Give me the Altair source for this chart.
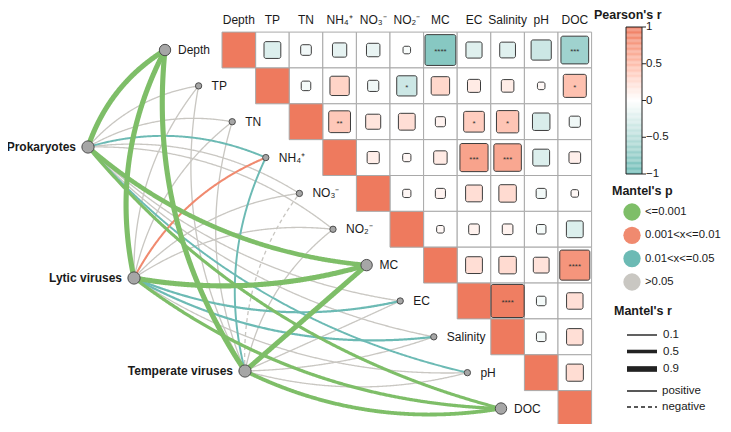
import math
import altair as alt
import numpy as np
import pandas as pd

# ---------------- data ----------------
variables = ["Depth", "TP", "TN", "NH₄⁺", "NO₃⁻", "NO₂⁻", "MC", "EC", "Salinity", "pH", "DOC"]

# Pearson's r, upper triangle (row i, columns i+1 .. end)
pearson_upper = [
    [-0.25, -0.10, -0.18, -0.16, -0.05, -0.84, -0.23, -0.22, -0.36, -0.68],
    [-0.08, 0.33, -0.11, -0.36, 0.30, 0.15, 0.14, 0.05, 0.47],
    [0.42, 0.20, 0.25, 0.09, 0.38, 0.44, -0.27, -0.11],
    [0.13, 0.06, 0.16, 0.70, 0.67, -0.25, 0.12],
    [0.06, 0.09, 0.25, 0.27, -0.09, 0.05],
    [0.05, 0.10, 0.10, -0.08, -0.25],
    [0.25, 0.27, 0.22, 0.80],
    [0.97, -0.08, 0.24],
    [-0.08, 0.24],
    [0.26],
]

sig_stars = [
    ("Depth", "MC", "****"), ("Depth", "DOC", "***"), ("TP", "NO₂⁻", "*"),
    ("TP", "DOC", "*"), ("TN", "NH₄⁺", "**"), ("TN", "EC", "*"), ("TN", "Salinity", "*"),
    ("NH₄⁺", "EC", "***"), ("NH₄⁺", "Salinity", "***"), ("MC", "DOC", "****"),
    ("EC", "Salinity", "****"),
]

sources = ["Prokaryotes", "Lytic viruses", "Temperate viruses"]
mantel_r = [
    [0.80, 0.08, 0.08, 0.20, 0.08, 0.08, 0.70, 0.08, 0.08, 0.20, 0.42],
    [0.80, 0.08, 0.08, 0.22, 0.08, 0.08, 0.80, 0.25, 0.25, 0.08, 0.45],
    [0.80, 0.08, 0.08, 0.20, 0.08, 0.08, 0.78, 0.08, 0.08, 0.08, 0.55],
]
mantel_p = [
    ["<=0.001", ">0.05", ">0.05", "0.01<x<=0.05", ">0.05", ">0.05", "<=0.001", ">0.05", ">0.05", "0.01<x<=0.05", "<=0.001"],
    ["<=0.001", ">0.05", ">0.05", "0.001<x<=0.01", ">0.05", ">0.05", "<=0.001", "0.01<x<=0.05", "0.01<x<=0.05", ">0.05", "<=0.001"],
    ["<=0.001", ">0.05", ">0.05", "0.01<x<=0.05", ">0.05", ">0.05", "<=0.001", ">0.05", ">0.05", ">0.05", "<=0.001"],
]
mantel_sign = [
    ["positive"] * 11,
    ["positive"] * 11,
    ["positive", "positive", "positive", "positive", "negative", "positive",
     "positive", "positive", "positive", "positive", "positive"],
]

p_levels = ["<=0.001", "0.001<x<=0.01", "0.01<x<=0.05", ">0.05"]
p_colors = ["#7EBE68", "#F08A6F", "#6CBAB4", "#C9C7C2"]
big_nodes = ["Depth", "MC", "DOC"]

cb_ticks = [1, 0.5, 0, -0.5, -1]
cb_labels = ["1", "0.5", "0", "−0.5", "−1"]
mr_legend = [0.1, 0.5, 0.9]
sign_legend = ["positive", "negative"]

# ---------------- layout ----------------
W, H = 715, 416
X0, CW = 222.0, 33.6
Y0, CH = 32.1, 35.85
NODE_DX = -57.0
source_pos = {"Prokaryotes": (88, 147), "Lytic viruses": (134, 278), "Temperate viruses": (245, 371)}
FONT = "Liberation Sans"
n = len(variables)

def cx(j):
    return X0 + (j + 0.5) * CW

def cy(i):
    return Y0 + (i + 0.5) * CH

xs = alt.Scale(domain=[8, 8 + W], nice=False, zero=False)
ys = alt.Scale(domain=[8, 8 + H], nice=False, zero=False, reverse=True)

def X(f="x"):
    return alt.X(f, type="quantitative", scale=xs, axis=None)

def Y(f="y"):
    return alt.Y(f, type="quantitative", scale=ys, axis=None)

fill_scale = alt.Scale(domain=[-1, 0, 1], range=["#6EBDB7", "#FFFFFF", "#EE7A5E"], interpolate="lab")
p_scale = alt.Scale(domain=p_levels, range=p_colors)
w_scale = alt.Scale(domain=[0, 1], range=[0.9, 6.2])
dash_scale = alt.Scale(domain=["positive", "negative"], range=[[1, 0], [4, 3]])

# ---------------- grid ----------------
cells, diag, squares = [], [], []
for i in range(n):
    for j in range(i, n):
        rec = dict(x=X0 + j * CW, x2=X0 + (j + 1) * CW, y=Y0 + i * CH, y2=Y0 + (i + 1) * CH)
        if i == j:
            rec["r"] = 1.0
            diag.append(rec)
        else:
            cells.append(rec)
            r = pearson_upper[i][j - i - 1]
            s = math.sqrt(abs(r)) * CW
            squares.append(dict(x=cx(j) - s / 2, x2=cx(j) + s / 2, y=cy(i) - s / 2, y2=cy(i) + s / 2, r=r))

cells_df = pd.DataFrame(cells)
diag_df = pd.DataFrame(diag)
sq_df = pd.DataFrame(squares)
stars_df = pd.DataFrame([dict(x=cx(variables.index(b)), y=cy(variables.index(a)) + 2, label=s)
                         for a, b, s in sig_stars])

cells_layer = alt.Chart(cells_df).mark_rect(fill="white", stroke="#A9A9A9", strokeWidth=1).encode(
    x=X(), x2="x2", y=Y(), y2="y2")
diag_layer = alt.Chart(diag_df).mark_rect(stroke="#A9A9A9", strokeWidth=1).encode(
    x=X(), x2="x2", y=Y(), y2="y2", fill=alt.Fill("r:Q", scale=fill_scale, legend=None))
sq_layer = alt.Chart(sq_df).mark_rect(stroke="#3C3C3C", strokeWidth=1, cornerRadius=2).encode(
    x=X(), x2="x2", y=Y(), y2="y2", fill=alt.Fill("r:Q", scale=fill_scale, legend=None))
stars_layer = alt.Chart(stars_df).mark_text(font=FONT, fontSize=8, color="#333333", baseline="middle").encode(
    x=X(), y=Y(), text="label:N")

col_df = pd.DataFrame(dict(x=[cx(j) for j in range(n)], y=[20] * n, label=variables))
col_layer = alt.Chart(col_df).mark_text(font=FONT, fontSize=12, color="#1A1A1A", baseline="middle").encode(
    x=X(), y=Y(), text="label:N")

# ---------------- network ----------------
node_xy = {v: (X0 + i * CW + NODE_DX, cy(i)) for i, v in enumerate(variables)}

def curve_pts(p0, p1, upper, m=48):
    x0, y0 = p0
    x1, y1 = p1
    dx, dy = x1 - x0, y1 - y0
    L = math.hypot(dx, dy)
    ang = math.degrees(math.atan2(dy, dx))
    if upper:
        px, py = dy / L, -dx / L
        k = 0.09
    else:
        px, py = -dy / L, dx / L
        k = 0.08 * min(max((ang + 25) / 30.0, 0), 1)
    mx, my = (x0 + x1) / 2 + px * 2 * k * L, (y0 + y1) / 2 + py * 2 * k * L
    t = np.linspace(0, 1, m)
    bx = (1 - t) ** 2 * x0 + 2 * (1 - t) * t * mx + t ** 2 * x1
    by = (1 - t) ** 2 * y0 + 2 * (1 - t) * t * my + t ** 2 * y1
    return t, bx, by

edge_rows = []
eid = 0
for si, s in enumerate(sources):
    for j, v in enumerate(variables):
        t, bx, by = curve_pts(source_pos[s], node_xy[v], j <= 5)
        for tt, xx, yy in zip(t, bx, by):
            edge_rows.append(dict(eid=eid, t=tt, x=xx, y=yy, mr=mantel_r[si][j],
                                  mp=mantel_p[si][j], sign=mantel_sign[si][j]))
        eid += 1
edges_df = pd.DataFrame(edge_rows)

def edge_layer(df):
    return alt.Chart(df).mark_line(strokeCap="butt").encode(
        x=X(), y=Y(), detail="eid:N", order="t:Q",
        stroke=alt.Stroke("mp:N", scale=p_scale, legend=None),
        strokeWidth=alt.StrokeWidth("mr:Q", scale=w_scale, legend=None),
        strokeDash=alt.StrokeDash("sign:N", scale=dash_scale, legend=None),
    )

edge_layers = [edge_layer(edges_df[edges_df.mp == lvl]) for lvl in [">0.05", "0.01<x<=0.05", "0.001<x<=0.01", "<=0.001"]]

src_df = pd.DataFrame(dict(x=[source_pos[s][0] for s in sources], y=[source_pos[s][1] for s in sources], label=sources))
big_df = pd.DataFrame(dict(x=[node_xy[v][0] for v in variables if v in big_nodes],
                           y=[node_xy[v][1] for v in variables if v in big_nodes]))
small_df = pd.DataFrame(dict(x=[node_xy[v][0] for v in variables if v not in big_nodes],
                             y=[node_xy[v][1] for v in variables if v not in big_nodes]))

node_style = dict(fill="#A6A6A6", stroke="#4D4D4D", strokeWidth=1, opacity=1)
src_nodes = alt.Chart(src_df).mark_circle(size=150, **node_style).encode(x=X(), y=Y())
big_nodes_layer = alt.Chart(big_df).mark_circle(size=130, **node_style).encode(x=X(), y=Y())
small_nodes_layer = alt.Chart(small_df).mark_circle(size=40, **node_style).encode(x=X(), y=Y())

src_text = alt.Chart(src_df).mark_text(font=FONT, fontSize=12, fontWeight="bold", color="#1A1A1A",
                                       align="right", baseline="middle", dx=-12).encode(x=X(), y=Y(), text="label:N")
tgt_df = pd.DataFrame(dict(x=[node_xy[v][0] + 13 for v in variables], y=[node_xy[v][1] for v in variables], label=variables))
tgt_text = alt.Chart(tgt_df).mark_text(font=FONT, fontSize=12, color="#1A1A1A", align="left", baseline="middle").encode(
    x=X(), y=Y(), text="label:N")

# ---------------- legends ----------------
CB_X, CB_X2, CB_TOP, CB_BOT = 626, 642, 27, 174
ns = 120
cb_rows = []
for k in range(ns):
    v = -1 + (k + 0.5) / ns * 2
    cb_rows.append(dict(x=CB_X, x2=CB_X2, y=CB_BOT - k / ns * (CB_BOT - CB_TOP),
                        y2=CB_BOT - (k + 1) / ns * (CB_BOT - CB_TOP), r=v))
cb_df = pd.DataFrame(cb_rows)
cb_layer = alt.Chart(cb_df).mark_rect().encode(x=X(), x2="x2", y=Y(), y2="y2",
                                                fill=alt.Fill("r:Q", scale=fill_scale, legend=None))
cb_border = alt.Chart(pd.DataFrame([dict(x=CB_X, x2=CB_X2, y=CB_TOP, y2=CB_BOT)])).mark_rect(
    fillOpacity=0, stroke="#222222", strokeWidth=1).encode(x=X(), x2="x2", y=Y(), y2="y2")
tick_y = [CB_BOT - (v + 1) / 2 * (CB_BOT - CB_TOP) for v in cb_ticks]
cb_tick_df = pd.DataFrame(dict(x=[CB_X2] * 5, x2=[CB_X2 + 4] * 5, y=tick_y, lx=[CB_X2 + 4] * 5, label=cb_labels))
cb_ticks_layer = alt.Chart(cb_tick_df).mark_rule(color="#222222", strokeWidth=1).encode(x=X(), x2="x2", y=Y())
cb_text = alt.Chart(cb_tick_df).mark_text(font=FONT, fontSize=11.5, color="#1A1A1A", align="left", baseline="middle").encode(
    x=X("lx"), y=Y(), text="label:N")

titles_df = pd.DataFrame(dict(x=[594, 612, 614], y=[14.5, 191, 311], label=["Pearson's r", "Mantel's p", "Mantel's r"]))
titles_layer = alt.Chart(titles_df).mark_text(font=FONT, fontSize=12.5, fontWeight="bold", color="#1A1A1A",
                                              align="left", baseline="middle").encode(x=X(), y=Y(), text="label:N")

p_leg_df = pd.DataFrame(dict(x=[632] * 4, y=[212, 235.3, 258.6, 282], lx=[645] * 4, mp=p_levels))
p_leg_c = alt.Chart(p_leg_df).mark_circle(size=300, opacity=1).encode(
    x=X(), y=Y(), color=alt.Color("mp:N", scale=p_scale, legend=None))
p_leg_t = alt.Chart(p_leg_df).mark_text(font=FONT, fontSize=11.3, color="#1A1A1A", align="left", baseline="middle").encode(
    x=X("lx"), y=Y(), text="mp:N")

r_leg_df = pd.DataFrame(dict(x=[627] * 3, x2=[657] * 3, y=[335, 351.5, 369], lx=[663] * 3, mr=mr_legend,
                             label=[str(v) for v in mr_legend]))
r_leg_l = alt.Chart(r_leg_df).mark_rule(color="#222222", strokeCap="butt").encode(
    x=X(), x2="x2", y=Y(), strokeWidth=alt.StrokeWidth("mr:Q", scale=w_scale, legend=None))
r_leg_t = alt.Chart(r_leg_df).mark_text(font=FONT, fontSize=11.5, color="#1A1A1A", align="left", baseline="middle").encode(
    x=X("lx"), y=Y(), text="label:N")

s_leg_df = pd.DataFrame(dict(x=[627] * 2, x2=[657] * 2, y=[391, 407], lx=[662] * 2, sign=sign_legend))
s_leg_l = alt.Chart(s_leg_df).mark_rule(color="#222222", strokeWidth=1.4).encode(
    x=X(), x2="x2", y=Y(), strokeDash=alt.StrokeDash("sign:N", scale=dash_scale, legend=None))
s_leg_t = alt.Chart(s_leg_df).mark_text(font=FONT, fontSize=11.5, color="#1A1A1A", align="left", baseline="middle").encode(
    x=X("lx"), y=Y(), text="sign:N")

chart = alt.layer(
    cells_layer, diag_layer, sq_layer, stars_layer, col_layer,
    *edge_layers,
    src_nodes, big_nodes_layer, small_nodes_layer, src_text, tgt_text,
    cb_layer, cb_border, cb_ticks_layer, cb_text, titles_layer,
    p_leg_c, p_leg_t, r_leg_l, r_leg_t, s_leg_l, s_leg_t,
).properties(
    width=W, height=H, padding=0, autosize=alt.AutoSizeParams(type="none")
).configure_view(strokeWidth=0)

chart.save("out.html", embed_options={"renderer": "svg", "actions": False})
